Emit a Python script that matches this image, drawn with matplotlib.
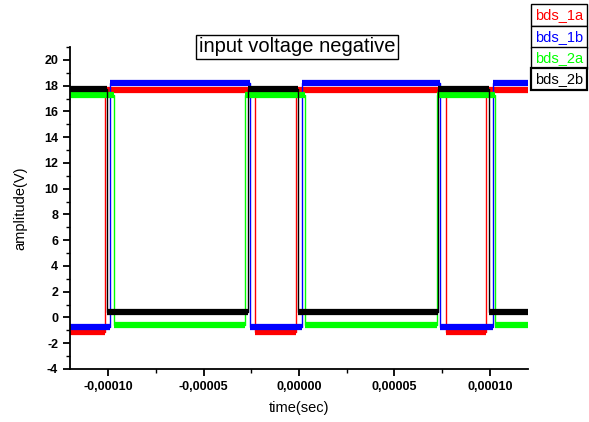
import matplotlib
matplotlib.use('Agg')
from matplotlib import pyplot as plt
from matplotlib.ticker import MultipleLocator, FuncFormatter

plt.rcParams['font.family'] = 'Liberation Sans'

# series names and colours (legend order)
names = ['bds_1a', 'bds_1b', 'bds_2a', 'bds_2b']
colors = ['#ff0000', '#0000ff', '#00ff00', '#000000']

# switching instants (sec)
edges_1a = [-1.018e-4, -0.232e-4, -0.017e-4, 0.769e-4, 0.980e-4]
edges_1b = [-0.991e-4, -0.258e-4, 0.018e-4, 0.741e-4, 1.016e-4]
edges_2a = [-0.970e-4, -0.284e-4, 0.034e-4, 0.721e-4, 1.028e-4]
edges_2b = [-1.006e-4, -0.268e-4, -0.005e-4, 0.729e-4, 0.998e-4]

# low / high levels (V)
low_levels = [-1.1, -0.75, -0.6, 0.4]
high_levels = [17.7, 18.2, 17.3, 17.75]
start_high = [False, False, True, True]

t_start, t_end = -1.2e-4, 1.2e-4


def build_wave(edges, lo, hi, high_first):
    xs, ys = [t_start], []
    level = hi if high_first else lo
    ys.append(level)
    segments = []
    seg_start = t_start
    for t in edges:
        xs += [t, t]
        new_level = lo if level == hi else hi
        ys += [level, new_level]
        segments.append((seg_start, t, level))
        seg_start = t
        level = new_level
    xs.append(t_end)
    ys.append(level)
    segments.append((seg_start, t_end, level))
    return xs, ys, segments


fig = plt.figure(figsize=(5.89, 4.22), dpi=100)
ax = fig.add_axes([0.1188, 0.1256, 0.7776, 0.763])

all_edges = [edges_1a, edges_1b, edges_2a, edges_2b]
for i in range(4):
    xs, ys, segs = build_wave(all_edges[i], low_levels[i], high_levels[i], start_high[i])
    ax.plot(xs, ys, color=colors[i], lw=1.0)
    for a, b, lev in segs:
        ax.plot([a, b], [lev, lev], color=colors[i], lw=4.5, solid_capstyle='butt')

ax.set_xlim(t_start, t_end)
ax.set_ylim(-4, 21)

ax.spines['top'].set_visible(False)
ax.spines['right'].set_visible(False)
ax.spines['left'].set_linewidth(1.3)
ax.spines['bottom'].set_linewidth(1.3)

ax.xaxis.set_major_locator(MultipleLocator(5e-5))
ax.xaxis.set_minor_locator(MultipleLocator(2.5e-5))
ax.yaxis.set_major_locator(MultipleLocator(2))
ax.yaxis.set_minor_locator(MultipleLocator(1))
ax.xaxis.set_major_formatter(FuncFormatter(lambda v, p: ('%.5f' % v).replace('.', ',').replace('-0,00000', '0,00000')))
ax.yaxis.set_major_formatter(FuncFormatter(lambda v, p: '%d' % round(v)))
ax.tick_params(which='major', direction='out', length=5, width=1.3, labelsize=9)
ax.tick_params(which='minor', direction='out', length=3, width=1.0)
for lab in ax.get_xticklabels() + ax.get_yticklabels():
    lab.set_fontweight('bold')

ax.set_xlabel('time(sec)', fontsize=10.5, labelpad=6)
ax.set_ylabel('amplitude(V)', fontsize=10.5, labelpad=12)

# title in a box
fig.text(297 / 589, 1 - 47 / 422, 'input voltage negative', fontsize=14.5,
         ha='center', va='center',
         bbox=dict(boxstyle='square,pad=0.12', fc='white', ec='black', lw=1))

# legend as separate boxes at the top right
legend_y = [15, 37, 58, 79]
for i in range(4):
    fig.text(559 / 589, 1 - legend_y[i] / 422, names[i], color=colors[i], fontsize=10.5,
             ha='center', va='center',
             bbox=dict(boxstyle='square,pad=0.25', fc='white', ec='black',
                       lw=1.6 if i == 3 else 1))

fig.savefig('out.png', dpi=100)
